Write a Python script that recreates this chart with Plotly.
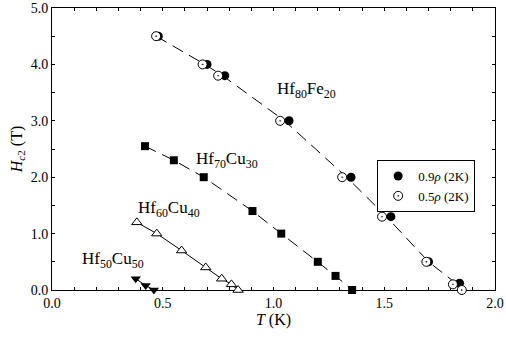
import plotly.graph_objects as go

# Hf80Fe20, two resistive criteria
t_fe_09 = [0.48, 0.70, 0.78, 1.07, 1.35, 1.53, 1.70, 1.84]
h_fe_09 = [4.5, 4.0, 3.8, 3.0, 2.0, 1.3, 0.5, 0.12]
t_fe_05 = [0.47, 0.68, 0.75, 1.03, 1.31, 1.49, 1.69, 1.81, 1.85]
h_fe_05 = [4.5, 4.0, 3.8, 3.0, 2.0, 1.3, 0.5, 0.1, 0.0]
# guide line
t_fe_line = [0.47, 0.69, 0.77, 1.05, 1.33, 1.51, 1.70, 1.83, 1.85]
h_fe_line = [4.5, 4.0, 3.8, 3.0, 2.0, 1.3, 0.5, 0.1, 0.0]

# Hf70Cu30
t_cu30 = [0.42, 0.55, 0.685, 0.905, 1.035, 1.20, 1.28, 1.355]
h_cu30 = [2.55, 2.3, 2.0, 1.4, 1.0, 0.5, 0.25, 0.0]

# Hf60Cu40
t_cu40 = [0.383, 0.473, 0.585, 0.694, 0.766, 0.81, 0.84]
h_cu40 = [1.2, 1.0, 0.7, 0.4, 0.2, 0.1, 0.0]

# Hf50Cu50
t_cu50 = [0.378, 0.423, 0.46]
h_cu50 = [0.2, 0.08, 0.0]

labels = ["Hf<sub>80</sub>Fe<sub>20</sub>", "Hf<sub>70</sub>Cu<sub>30</sub>",
          "Hf<sub>60</sub>Cu<sub>40</sub>", "Hf<sub>50</sub>Cu<sub>50</sub>"]
label_t = [1.15, 0.79, 0.528, 0.275]
label_h = [3.55, 2.3, 1.44, 0.53]

x_ticks = [0.0, 0.5, 1.0, 1.5, 2.0]
x_ticklabels = ["0.0", "0.5", "1.0", "1.5", "2.0"]
y_ticks = [0.0, 1.0, 2.0, 3.0, 4.0, 5.0]
y_ticklabels = ["0.0", "1.0", "2.0", "3.0", "4.0", "5.0"]

SERIF = "Liberation Serif"
DASH = "12px,7px"

fig = go.Figure()

# guide lines
fig.add_trace(go.Scatter(x=t_fe_line, y=h_fe_line, mode="lines", showlegend=False,
                         line=dict(color="black", width=1, dash=DASH)))
fig.add_trace(go.Scatter(x=t_cu30, y=h_cu30, mode="lines", showlegend=False,
                         line=dict(color="black", width=1, dash=DASH)))
fig.add_trace(go.Scatter(x=t_cu40, y=h_cu40, mode="lines", showlegend=False,
                         line=dict(color="black", width=1)))
fig.add_trace(go.Scatter(x=t_cu50, y=h_cu50, mode="lines", showlegend=False,
                         line=dict(color="black", width=1)))

# markers (not clipped, so the ones on H = 0 sit whole on the axis)
fig.add_trace(go.Scatter(x=t_cu30, y=h_cu30, mode="markers", showlegend=False, cliponaxis=False,
                         marker=dict(symbol="square", size=8, color="black")))
fig.add_trace(go.Scatter(x=t_cu40, y=h_cu40, mode="markers", showlegend=False, cliponaxis=False,
                         marker=dict(symbol="triangle-up", size=9, color="white",
                                     line=dict(color="black", width=1))))
fig.add_trace(go.Scatter(x=t_cu50, y=h_cu50, mode="markers", showlegend=False, cliponaxis=False,
                         marker=dict(symbol="triangle-down", size=9, color="black")))
fig.add_trace(go.Scatter(x=t_fe_09, y=h_fe_09, mode="markers", name="0.9<i>ρ</i> (2K)",
                         cliponaxis=False,
                         marker=dict(symbol="circle", size=9, color="black")))
fig.add_trace(go.Scatter(x=t_fe_05, y=h_fe_05, mode="markers", name="0.5<i>ρ</i> (2K)",
                         cliponaxis=False,
                         marker=dict(symbol="circle-dot", size=9, color="white",
                                     line=dict(color="black", width=1))))

for txt, tx, hy in zip(labels, label_t, label_h):
    fig.add_annotation(x=tx, y=hy, xref="x", yref="y", text=txt, showarrow=False,
                       font=dict(family=SERIF, size=17, color="black"))

# boxed axes with short inside ticks on all four sides
axis_common = dict(
    showline=True, linecolor="black", linewidth=1, mirror="allticks",
    ticks="inside", ticklen=3, tickwidth=1, tickcolor="black",
    showgrid=False, zeroline=False, automargin=False, layer="below traces",
    tickfont=dict(family=SERIF, size=14, color="black"),
)
fig.update_xaxes(range=[0, 2.0], tickvals=x_ticks, ticktext=x_ticklabels,
                 minor=dict(dtick=0.1, ticks="inside", ticklen=3, tickwidth=1, tickcolor="black"),
                 title=dict(text="<i>T</i> (K)", font=dict(family=SERIF, size=16, color="black"),
                            standoff=2),
                 **axis_common)
fig.update_yaxes(range=[0, 5.0], tickvals=y_ticks, ticktext=y_ticklabels,
                 minor=dict(dtick=0.5, ticks="inside", ticklen=3, tickwidth=1, tickcolor="black"),
                 title=dict(text="<i>H</i><sub><i>c</i>2</sub> (T)",
                            font=dict(family=SERIF, size=16, color="black"), standoff=4),
                 **axis_common)

fig.update_layout(
    width=506, height=338,
    margin=dict(l=52, r=11, t=8, b=48),
    paper_bgcolor="white", plot_bgcolor="white",
    font=dict(family=SERIF, color="black"),
    legend=dict(x=0.734, y=0.461, xanchor="left", yanchor="top",
                bgcolor="white", bordercolor="black", borderwidth=1,
                font=dict(family=SERIF, size=13, color="black"),
                itemwidth=30, tracegroupgap=0),
)

fig.write_html("out.html", config={"displayModeBar": False},
               post_script="document.body.style.margin='0';")
